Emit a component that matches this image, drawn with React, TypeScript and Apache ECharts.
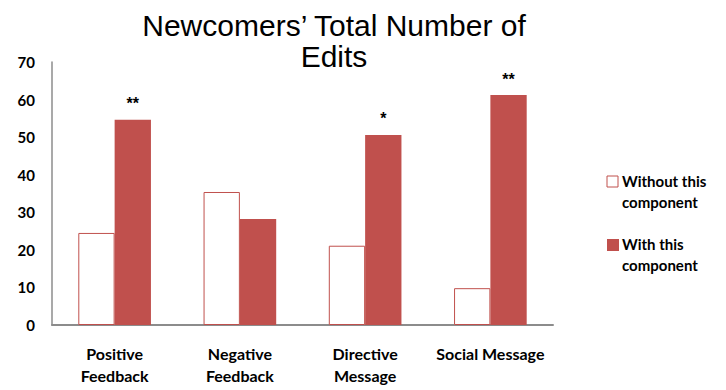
import React, { useEffect, useRef } from "react";
import * as echarts from "echarts";

const categories = ["Positive\nFeedback", "Negative\nFeedback", "Directive\nMessage", "Social Message"];
const withoutValues = [24.5, 35.4, 21.1, 9.8];
const withValues = [54.6, 28.2, 50.6, 61.2];
const significance = ["**", "", "*", "**"];
const yTicks = { min: 0, max: 70, interval: 10 };
const legendNames = ["Without this\ncomponent", "With this\ncomponent"];

const RED = "#C0504D";

export default function App() {
  const ref = useRef<HTMLDivElement>(null);
  useEffect(() => {
    if (!ref.current) return;
    const chart = echarts.init(ref.current, null, { renderer: "svg" });
    chart.setOption({
      animation: false,
      backgroundColor: "#fff",
      title: {
        text: "Newcomers\u2019 Total Number of\nEdits",
        left: 329,
        top: 5,
        textAlign: "center",
        textStyle: {
          fontFamily: "Liberation Sans",
          fontSize: 30,
          fontWeight: "normal",
          color: "#000",
          lineHeight: 31,
        },
      },
      grid: { left: 52, right: 173, top: 62, bottom: 65, containLabel: false },
      xAxis: {
        type: "category",
        data: categories,
        axisLine: { lineStyle: { color: "#8C8C8C", width: 2 } },
        axisTick: { show: false },
        axisLabel: {
          interval: 0,
          margin: 17,
          color: "#000",
          fontFamily: "Lato",
          fontWeight: "bold",
          fontSize: 16,
          lineHeight: 22,
        },
      },
      yAxis: {
        type: "value",
        min: yTicks.min,
        max: yTicks.max,
        interval: yTicks.interval,
        splitLine: { show: false },
        axisLine: { show: true, lineStyle: { color: "#8C8C8C", width: 1.5 } },
        axisTick: { show: false },
        axisLabel: {
          margin: 17,
          color: "#000",
          fontFamily: "Lato",
          fontWeight: "bold",
          fontSize: 15,
        },
      },
      series: [
        {
          name: legendNames[0],
          type: "bar",
          data: withoutValues,
          barGap: "0%",
          barCategoryGap: "42%",
          itemStyle: { color: "#ffffff", borderColor: RED, borderWidth: 1 },
        },
        {
          name: legendNames[1],
          type: "bar",
          data: withValues,
          itemStyle: { color: RED },
          label: {
            show: true,
            position: "top",
            distance: 8,
            fontFamily: "Liberation Sans",
            fontWeight: "bold",
            fontSize: 16,
            color: "#000",
            formatter: (p: any) => significance[p.dataIndex],
          },
        },
      ],
      graphic: [
        {
          type: "rect",
          shape: { x: 607, y: 176, width: 11, height: 11 },
          style: { fill: "#fff", stroke: RED, lineWidth: 1 },
        },
        {
          type: "text",
          x: 622,
          y: 170,
          style: {
            text: legendNames[0],
            fontFamily: "Lato",
            fontWeight: "bold",
            fontSize: 15,
            lineHeight: 21,
            fill: "#000",
          },
        },
        {
          type: "rect",
          shape: { x: 607, y: 239, width: 12, height: 12 },
          style: { fill: RED },
        },
        {
          type: "text",
          x: 622,
          y: 233,
          style: {
            text: legendNames[1],
            fontFamily: "Lato",
            fontWeight: "bold",
            fontSize: 15,
            lineHeight: 21,
            fill: "#000",
          },
        },
      ],
    });
    return () => chart.dispose();
  }, []);
  return <div ref={ref} style={{ width: 726, height: 390, position: "absolute", left: 0, top: 0 }} />;
}
